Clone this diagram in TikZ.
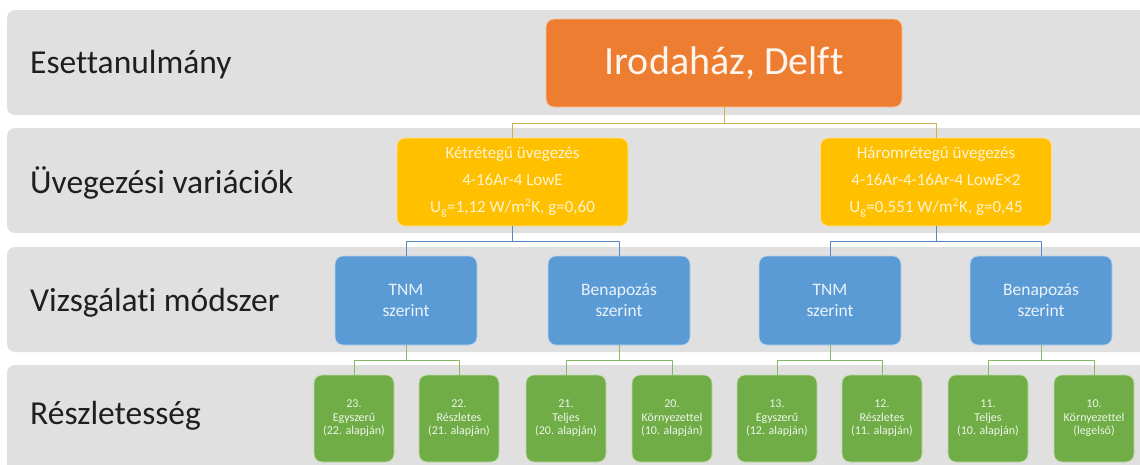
\documentclass[tikz,border=0pt]{standalone}
\usepackage{fontspec}
\setmainfont{Carlito}[Ligatures=NoCommon]
\usetikzlibrary{positioning}
\definecolor{bandgray}{HTML}{E0E0E0}
\definecolor{caseorange}{HTML}{ED7D31}
\definecolor{glazeyellow}{HTML}{FFC000}
\definecolor{methodblue}{HTML}{5B9BD5}
\definecolor{detailgreen}{HTML}{70AD47}
\tikzstyle{band}=[fill=bandgray,rounded corners=8pt]
\tikzstyle{rowlabel}=[anchor=base west,inner sep=0pt,text=black!88,font=\fontsize{33.5}{36}\selectfont]
\tikzstyle{box}=[rounded corners=8pt,align=center,inner sep=2pt,line width=0.8pt]
\tikzstyle{casebox}=[box,fill=caseorange,draw=white!55!caseorange,text=white!92!caseorange,minimum width=356pt,minimum height=88pt,font=\fontsize{40}{44}\selectfont]
\tikzstyle{glazebox}=[box,fill=glazeyellow,draw=white!55!glazeyellow,text=white!82!glazeyellow,minimum width=231pt,minimum height=88pt,font=\fontsize{17}{27}\selectfont]
\tikzstyle{methodbox}=[box,fill=methodblue,draw=white!55!methodblue,text=white!88!methodblue,minimum width=142pt,minimum height=89pt,font=\fontsize{17.5}{21}\selectfont]
\tikzstyle{detailbox}=[box,fill=detailgreen,draw=white!55!detailgreen,text=white!88!detailgreen,minimum width=80pt,minimum height=87pt,font=\fontsize{12}{13.5}\selectfont]
\tikzstyle{ybus}=[draw=glazeyellow!75!black!70!white,line width=0.8pt,line join=round]
\tikzstyle{bbus}=[draw=methodblue!90!black,line width=0.8pt,line join=round]
\tikzstyle{gbus}=[draw=detailgreen!85!white,line width=0.8pt,line join=round]

\begin{document}
\begin{tikzpicture}[x=1pt,y=-1pt]
  \useasboundingbox (0,0) rectangle (1140,464);
  \clip (0,0) rectangle (1140,464);
  % background rows
  \fill[band] (7,10) rectangle (1160,115);
  \fill[band] (7,128) rectangle (1160,233);
  \fill[band] (7,247) rectangle (1160,352);
  \fill[band] (7,365) rectangle (1160,480);
  \node[rowlabel] (lcase) at (30,73) {Esettanulmány};
  \node[rowlabel] (lglaze) at (30,193) {Üvegezési variációk};
  \node[rowlabel] (lmethod) at (30,311) {Vizsgálati módszer};
  \node[rowlabel] (ldetail) at (30,424) {Részletesség};

  % tree
  \node[casebox] (case) at (724,63) {Irodaház, Delft};
  \node[glazebox] (g1) at (512.5,182) {Kétrétegű üvegezés\\4-16Ar-4 LowE\\U\textsubscript{g}=1,12 W/m\textsuperscript{2}K, g=0,60};
  \node[glazebox] (g2) at (936,182) {Háromrétegű üvegezés\\4-16Ar-4-16Ar-4 LowE×2\\U\textsubscript{g}=0,551 W/m\textsuperscript{2}K, g=0,45};
  \foreach \i/\xx/\txt in {1/406/{TNM\\szerint},2/619/{Benapozás\\szerint},
                            3/830/{TNM\\szerint},4/1041/{Benapozás\\szerint}}
    \node[methodbox] (m\i) at (\xx,300.5) {\txt};
  \foreach \i/\xx/\txt in {1/354/{23.\\Egyszerű\\(22. alapján)},2/459/{22.\\Részletes\\(21. alapján)},
                            3/566/{21.\\Teljes\\(20. alapján)},4/672/{20.\\Környezettel\\(10. alapján)},
                            5/777/{13.\\Egyszerű\\(12. alapján)},6/882/{12.\\Részletes\\(11. alapján)},
                            7/988/{11.\\Teljes\\(10. alapján)},8/1094/{10.\\Környezettel\\(legelső)}}
    \node[detailbox] (d\i) at (\xx,418.5) {\txt};

  \draw[ybus] (case.south) -- ++(0,16) -| (g1.north);
  \draw[ybus] (case.south) -- ++(0,16) -| (g2.north);
  \draw[bbus] (g1.south) -- ++(0,15) -| (m1.north);
  \draw[bbus] (g1.south) -- ++(0,15) -| (m2.north);
  \draw[bbus] (g2.south) -- ++(0,15) -| (m3.north);
  \draw[bbus] (g2.south) -- ++(0,15) -| (m4.north);
  \foreach \m/\a/\b in {1/1/2,2/3/4,3/5/6,4/7/8}{
    \draw[gbus] (m\m.south) -- ++(0,15) -| (d\a.north);
    \draw[gbus] (m\m.south) -- ++(0,15) -| (d\b.north);
  }
\end{tikzpicture}
\end{document}
